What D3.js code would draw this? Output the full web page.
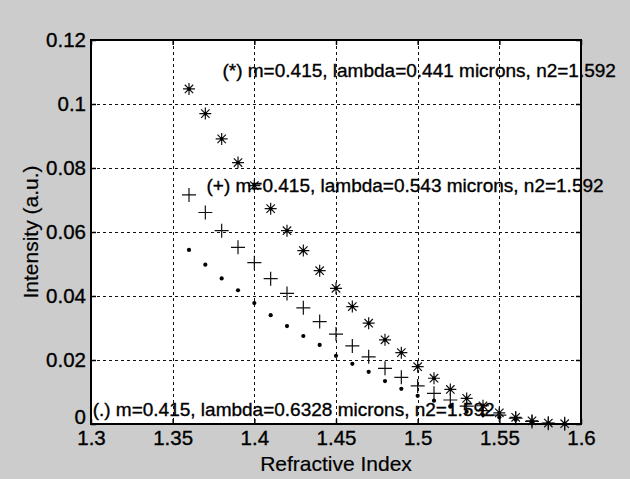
<!DOCTYPE html>
<html><head><meta charset="utf-8">
<script src="https://cdn.jsdelivr.net/npm/d3@7"></script>
<style>body{margin:0;background:#cccccc;} svg{display:block;}</style>
</head><body>
<svg id="chart" width="630" height="479"></svg>
<script>
const xValues = [1.36,1.37,1.38,1.39,1.40,1.41,1.42,1.43,1.44,1.45,1.46,1.47,1.48,1.49,1.50,1.51,1.52,1.53,1.54,1.55,1.56,1.57,1.58,1.59];
const starValues = [0.1047,0.0970,0.0891,0.0817,0.0745,0.0673,0.0604,0.0542,0.0479,0.0424,0.0367,0.0315,0.0263,0.0223,0.0179,0.0143,0.0108,0.0080,0.0057,0.0035,0.0021,0.0010,0.0003,0.0001];
const plusValues = [0.0716,0.0661,0.0604,0.0552,0.0504,0.0454,0.0408,0.0363,0.0320,0.0281,0.0244,0.0210,0.0174,0.0146,0.0119,0.0096,0.0075,0.0056,0.0042,0.0028,0.0018,0.0008,0.0002,0.0001];
const dotValues = [0.0544,0.0498,0.0455,0.0418,0.0378,0.0340,0.0306,0.0275,0.0247,0.0213,0.0188,0.0163,0.0134,0.0110,0.0088,0.0073,0.0054,0.0038,0.0028,0.0021,0.0013,0.0004,0.0002,0.0001];
const xTicks = [1.3,1.35,1.4,1.45,1.5,1.55,1.6];
const yTicks = [0,0.02,0.04,0.06,0.08,0.1,0.12];
const xTickLabels = ["1.3","1.35","1.4","1.45","1.5","1.55","1.6"];
const yTickLabels = ["0","0.02","0.04","0.06","0.08","0.1","0.12"];
const annotations = [
  {text:"(*) m=0.415, lambda=0.441 microns, n2=1.592", x:1.3805, y:0.1105},
  {text:"(+) m=0.415, lambda=0.543 microns, n2=1.592", x:1.3707, y:0.0746},
  {text:"(.) m=0.415, lambda=0.6328 microns, n2=1.592", x:1.3010, y:0.0046}
];
const xLabel = "Refractive Index";
const yLabel = "Intensity (a.u.)";

const L = 91, R = 581, T = 40, B = 424;
const font = "'Liberation Sans', Arial, sans-serif";
const svg = d3.select("#chart");
const x = d3.scaleLinear().domain([1.3,1.6]).range([L,R]);
const y = d3.scaleLinear().domain([0,0.12]).range([B,T]);

svg.append("rect").attr("x",L).attr("y",T).attr("width",R-L).attr("height",B-T).attr("fill","#fff");

// grid
const g = svg.append("g").attr("stroke","#111").attr("stroke-width",1).attr("stroke-dasharray","3,3");
g.selectAll(".vg").data(xTicks.slice(1,-1)).join("line")
  .attr("x1",d=>Math.round(x(d))+0.5).attr("x2",d=>Math.round(x(d))+0.5).attr("y1",T).attr("y2",B);
g.selectAll(".hg").data(yTicks.slice(1,-1)).join("line")
  .attr("y1",d=>Math.round(y(d))+0.5).attr("y2",d=>Math.round(y(d))+0.5).attr("x1",L).attr("x2",R);

// axes with inward ticks
const fmtX = (d,i)=>xTickLabels[i], fmtY=(d,i)=>yTickLabels[i];
function styleAxis(sel){ sel.select(".domain").remove(); sel.selectAll("line").attr("stroke","#000").attr("stroke-width",1.5);
  sel.selectAll("text").attr("fill","#000").attr("stroke","#000").attr("stroke-width",0.35)
    .style("font-family",font).style("font-size","20.5px"); }
svg.append("g").attr("transform",`translate(0,${B})`).call(d3.axisBottom(x).tickValues(xTicks).tickFormat(fmtX).tickSizeInner(-5).tickPadding(6)).call(styleAxis);
svg.append("g").attr("transform",`translate(0,${T})`).call(d3.axisTop(x).tickValues(xTicks).tickFormat("").tickSizeInner(-5)).call(styleAxis);
const yAxisG = svg.append("g").attr("transform",`translate(${L},0)`).call(d3.axisLeft(y).tickValues(yTicks).tickFormat(fmtY).tickSizeInner(-5).tickPadding(5)).call(styleAxis);
yAxisG.selectAll(".tick text").filter(d=>d===0).attr("dy","-0.02em");
svg.append("g").attr("transform",`translate(${R},0)`).call(d3.axisRight(y).tickValues(yTicks).tickFormat("").tickSizeInner(-5)).call(styleAxis);

// markers
const stroke = "#111";
const sg = svg.append("g").attr("stroke",stroke).attr("stroke-width",1.2).attr("fill","none");
const starData = xValues.map((v,i)=>[v,starValues[i]]);
const plusData = xValues.map((v,i)=>[v,plusValues[i]]);
const dotData = xValues.map((v,i)=>[v,dotValues[i]]);
const s = 6, dg = 4.2;
sg.selectAll(".star").data(starData).join("path")
  .attr("d",d=>{const cx=x(d[0]), cy=y(d[1]);
    return `M${cx-s},${cy}H${cx+s}M${cx},${cy-s}V${cy+s}M${cx-dg},${cy-dg}L${cx+dg},${cy+dg}M${cx-dg},${cy+dg}L${cx+dg},${cy-dg}`;});
sg.selectAll(".stardot").data(starData).join("circle").attr("cx",d=>x(d[0])).attr("cy",d=>y(d[1])).attr("r",1.8).attr("fill","#000").attr("stroke","none");
const p = 7;
sg.selectAll(".plus").data(plusData).join("path")
  .attr("d",d=>{const cx=x(d[0]), cy=y(d[1]); return `M${cx-p},${cy}H${cx+p}M${cx},${cy-p}V${cy+p}`;});
svg.append("g").selectAll("circle").data(dotData).join("circle")
  .attr("cx",d=>x(d[0])).attr("cy",d=>y(d[1])).attr("r",2.1).attr("fill","#000");

// axis box
svg.append("rect").attr("x",L).attr("y",T).attr("width",R-L).attr("height",B-T).attr("fill","none").attr("stroke","#000").attr("stroke-width",2);

// annotations
svg.append("g").selectAll("text").data(annotations).join("text")
  .attr("x",d=>x(d.x)).attr("y",d=>y(d.y)).attr("dy","0.35em")
  .attr("stroke","#000").attr("stroke-width",0.35)
  .style("font-family",font).style("font-size","19px").attr("fill","#000").text(d=>d.text);

// labels
svg.append("text").attr("x",(L+R)/2).attr("y",471).attr("text-anchor","middle")
  .attr("stroke","#000").attr("stroke-width",0.2)
  .style("font-family",font).style("font-size","21px").text(xLabel);
svg.append("text").attr("transform",`translate(38,${(T+B)/2}) rotate(-90)`).attr("text-anchor","middle")
  .attr("stroke","#000").attr("stroke-width",0.2)
  .style("font-family",font).style("font-size","21px").text(yLabel);
</script>
</body></html>
